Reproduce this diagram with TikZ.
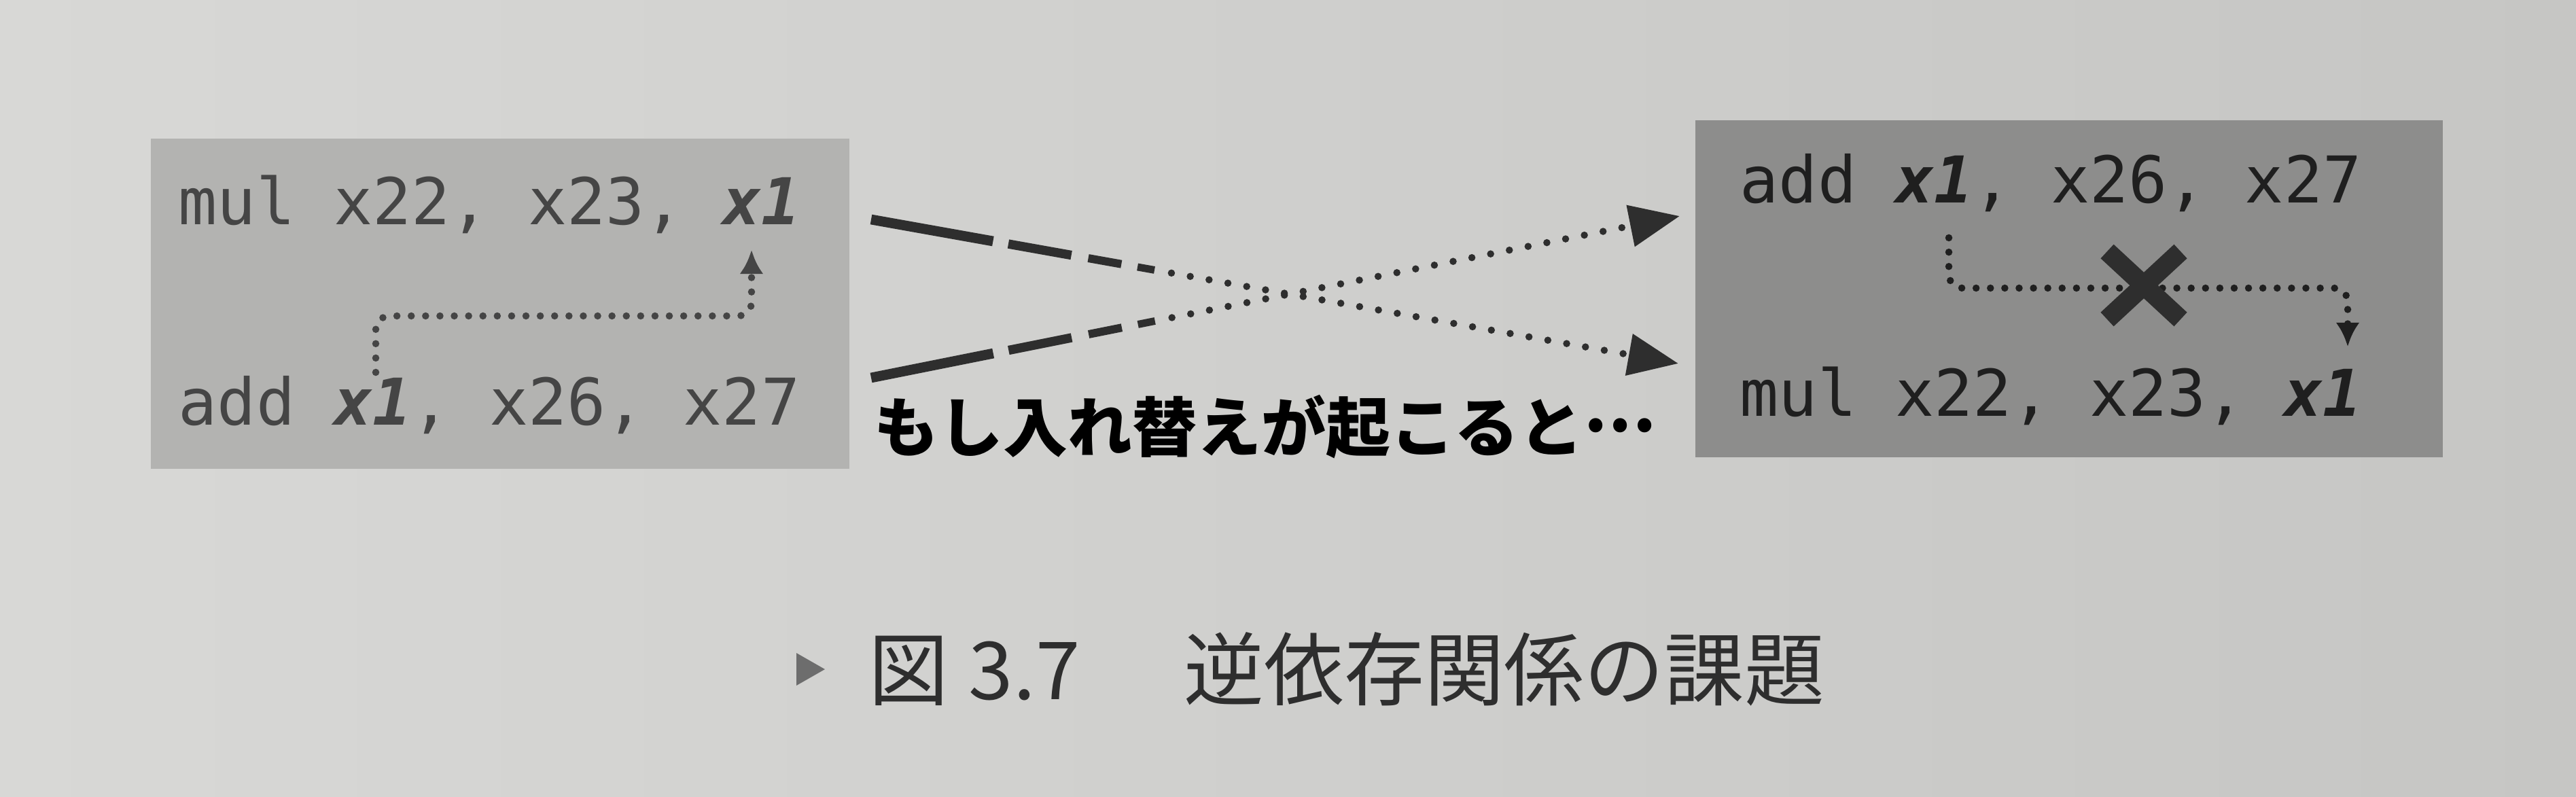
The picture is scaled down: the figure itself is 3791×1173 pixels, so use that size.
\documentclass[tikz,border=0pt]{standalone}
\usepackage{fontspec}
\newfontfamily\codefont{DejaVu Sans Mono}
\newfontfamily\jpfont{Noto Sans CJK JP}
\usetikzlibrary{calc,arrows.meta}
\definecolor{pagebg}{HTML}{D8D8D6}
\definecolor{pagebgdark}{HTML}{C6C6C4}
\definecolor{leftfill}{HTML}{B3B3B1}
\definecolor{rightfill}{HTML}{8D8D8C}
\definecolor{lefttext}{HTML}{454545}
\definecolor{righttext}{HTML}{1F1F1F}
\definecolor{ink}{HTML}{2E2E2E}
\tikzset{
  codebox/.style={inner sep=0pt, draw=none},
  code/.style={inner sep=0pt, anchor=base west, font=\codefont\fontsize{27pt}{30pt}\selectfont},
  innerarrow/.style={line width=3pt, dash pattern=on 0pt off 6pt, line cap=round,
    rounded corners=0.2cm, -{Latex[length=10pt,width=10pt]}},
  heavydash/.style={line width=4.2pt, ink},
  dotline/.style={line width=3pt, ink, dash pattern=on 0pt off 8pt, line cap=round,
    -{Triangle[length=21pt,width=17pt]}},
  crossmark/.style={line width=8pt, ink},
  label/.style={inner sep=0pt, font=\jpfont\bfseries\fontsize{27pt}{30pt}\selectfont, text=black},
  caption/.style={inner sep=0pt, anchor=west, font=\jpfont\fontsize{33.5pt}{36pt}\selectfont, text=ink}
}
\newcommand{\bx}{\textbf{\textit{x1}}}
\begin{document}
\begin{tikzpicture}[x=0.01cm,y=-0.01cm]
  \useasboundingbox (0,0) rectangle (3791,1173);
  \shade[left color=pagebg, right color=pagebgdark] (0,0) rectangle (3791,1173);

  % boxes
  \node[codebox, fill=leftfill, minimum width=10.28cm, minimum height=4.85cm] (LB) at (736,447) {};
  \node[codebox, fill=rightfill, minimum width=11.0cm, minimum height=4.95cm] (RB) at (3045,425) {};

  % code lines
  \node[code, text=lefttext] (L1) at (262,330) {mul x22, x23, \bx};
  \node[code, text=lefttext] (L2) at (262,625) {add \bx, x26, x27};
  \node[code, text=righttext] (R1) at (2560,298) {add \bx, x26, x27};
  \node[code, text=righttext] (R2) at (2560,612) {mul x22, x23, \bx};

  % left dependency arrow
  \coordinate (lfrom) at (553,548);
  \coordinate (lmid) at (1106,465);
  \coordinate (lto) at (1106,368);
  \draw[innerarrow, lefttext] (lfrom) |- (lmid) -- (lto);

  % right dependency arrow (broken)
  \coordinate (rfrom) at (2868,350);
  \coordinate (rmid) at (3455,424);
  \coordinate (rto) at (3455,510);
  \draw[innerarrow, righttext] (rfrom) |- (rmid) -- (rto);
  \coordinate (xc) at (3155,420);
  \draw[crossmark] ($(xc)+(-54,-50)$) -- ($(xc)+(54,50)$);
  \draw[crossmark] ($(xc)+(54,-50)$) -- ($(xc)+(-54,50)$);

  % crossing arrows
  \coordinate (aS) at (1282,323);
  \coordinate (aE) at (2470,535);
  \coordinate (bS) at (1282,556);
  \coordinate (bE) at (2472,318);
  \foreach \s/\t in {aS/aE, bS/bE}{
    \draw[heavydash] ($(\s)!0!(\t)$) -- ($(\s)!0.151!(\t)$);
    \draw[heavydash, line width=3.8pt] ($(\s)!0.17!(\t)$) -- ($(\s)!0.248!(\t)$);
    \draw[heavydash, line width=3.4pt] ($(\s)!0.269!(\t)$) -- ($(\s)!0.31!(\t)$);
    \draw[heavydash, line width=3.1pt] ($(\s)!0.33!(\t)$) -- ($(\s)!0.351!(\t)$);
    \draw[dotline] ($(\s)!0.372!(\t)$) -- (\t);
  }

  \node[label] (swap) at (1862,628) {もし入れ替えが起こると\raisebox{0.3em}{…}};

  % caption
  \coordinate (tri) at (1172,985);
  \fill[ink!70] ($(tri)+(0,-24)$) -- ($(tri)+(42,0)$) -- ($(tri)+(0,24)$) -- cycle;
  \node[caption] (cap) at (1278,985) {図\hspace{0.25em}3.7\hspace{1.3em}逆依存関係の課題};
\end{tikzpicture}
\end{document}
